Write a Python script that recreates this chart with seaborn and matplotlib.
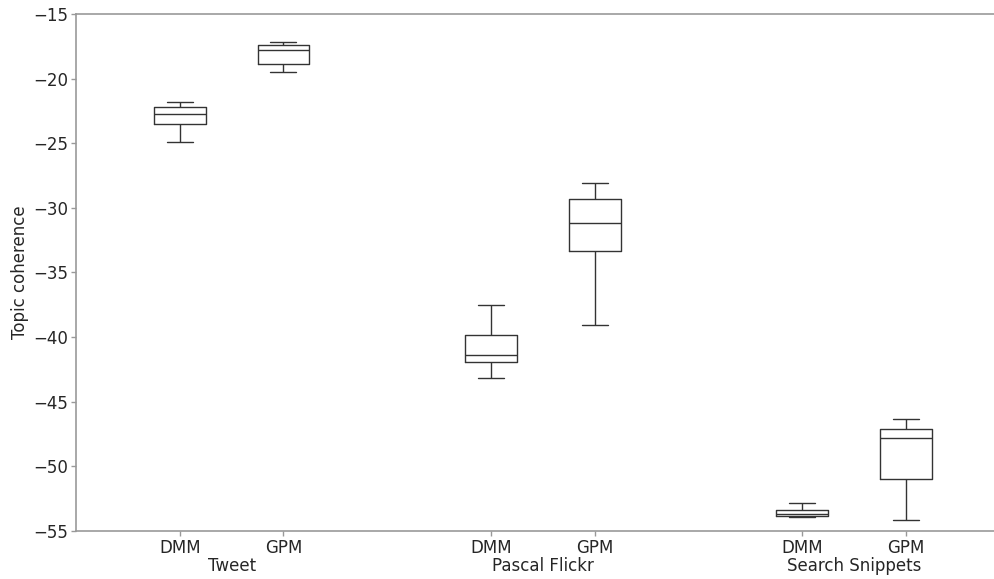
import numpy as np
import pandas as pd
import matplotlib
matplotlib.use("Agg")
import matplotlib.pyplot as plt
import matplotlib.transforms as mtransforms
import seaborn as sns

# ---- data ----
datasets = ["Tweet", "Tweet", "Pascal Flickr", "Pascal Flickr", "Search Snippets", "Search Snippets"]
models = ["DMM", "GPM", "DMM", "GPM", "DMM", "GPM"]
group_names = ["Tweet", "Pascal Flickr", "Search Snippets"]
whisker_low = [-24.93, -19.51, -43.14, -39.09, -53.95, -54.17]
q1 = [-23.51, -18.87, -41.95, -33.31, -53.86, -50.98]
median = [-22.71, -17.79, -41.36, -31.17, -53.70, -47.80]
q3 = [-22.17, -17.42, -39.81, -29.29, -53.40, -47.11]
whisker_high = [-21.83, -17.14, -37.51, -28.10, -52.83, -46.36]
positions = [1, 2, 4, 5, 7, 8]

rows = []
for i in range(len(models)):
    for v in (whisker_low[i], q1[i], median[i], q3[i], whisker_high[i]):
        rows.append({"pos": positions[i], "model": models[i], "dataset": datasets[i], "value": v})
df = pd.DataFrame(rows)

sns.set_style("white")
plt.rcParams["font.family"] = ["DejaVu Sans"]

fig = plt.figure(figsize=(9.94, 5.79), dpi=100)
ax = fig.add_axes([0.0765, 0.0829, 0.939, 0.893])

line_col = "#333333"
sns.boxplot(data=df, x="pos", y="value", native_scale=True, width=0.5,
            fill=False, color=line_col, linecolor=line_col, linewidth=1.0,
            whis=1.5, showfliers=False, ax=ax)

ax.set_xlim(0, 9)
ax.set_ylim(-55, -15)
ax.set_yticks(np.arange(-55, -14, 5))
ax.set_xticks(positions)
ax.set_xticklabels(models)
ax.set_xlabel("")
ax.set_ylabel("Topic coherence", fontsize=12, labelpad=3)
ax.tick_params(axis="both", labelsize=12, length=3.5, width=1, color="#999999",
               left=True, bottom=True, pad=2)
for s in ax.spines.values():
    s.set_color("#999999")
    s.set_linewidth(1.2)

trans = mtransforms.blended_transform_factory(ax.transData, ax.transAxes)
for k, g in enumerate(group_names):
    cx = (positions[2 * k] + positions[2 * k + 1]) / 2
    ax.text(cx, -0.05, g, transform=trans, ha="center", va="top", fontsize=12)

fig.savefig("out.png", dpi=100)
